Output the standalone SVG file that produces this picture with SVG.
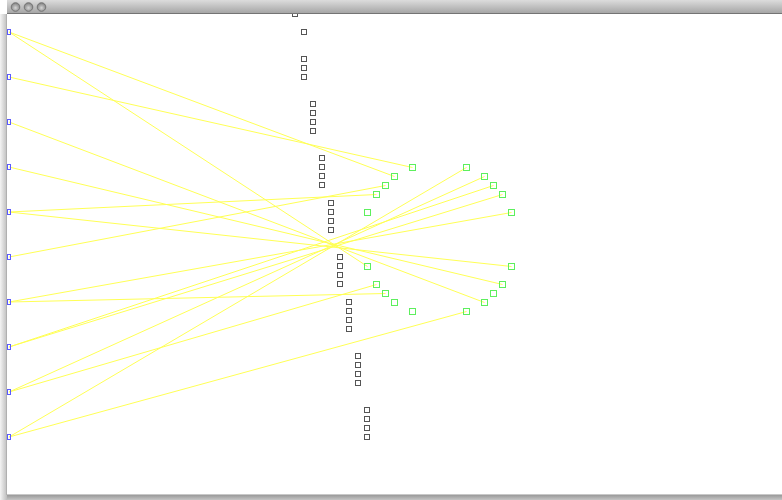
<svg xmlns="http://www.w3.org/2000/svg" width="782" height="500" viewBox="0 0 782 500">
<defs>
<linearGradient id="title" x1="0" y1="0" x2="0" y2="1">
<stop offset="0" stop-color="#dcdcdc"/><stop offset="1" stop-color="#a2a2a2"/>
</linearGradient>
<linearGradient id="leftsh" x1="0" y1="0" x2="1" y2="0">
<stop offset="0" stop-color="#f4f4f4"/><stop offset="1" stop-color="#bdbdbd"/>
</linearGradient>
<linearGradient id="botsh" x1="0" y1="0" x2="0" y2="1">
<stop offset="0" stop-color="#9a9a9a"/><stop offset="1" stop-color="#c4c4c4"/>
</linearGradient>
<radialGradient id="btn" cx="0.5" cy="0.6" r="0.6">
<stop offset="0" stop-color="#d6d6d6"/><stop offset="1" stop-color="#7c7c7c"/>
</radialGradient>
<style>
.edge{stroke:#ffff55;stroke-width:1;fill:none}
.blue{fill:none;stroke:#5a5aff;stroke-width:1}
.green{fill:none;stroke:#5def5d;stroke-width:1}
.black{fill:none;stroke:#555555;stroke-width:1}
</style>
</defs>
<rect x="0" y="0" width="782" height="500" fill="#ffffff"/>
<rect x="0" y="14" width="7" height="486" fill="url(#leftsh)"/>
<rect x="7" y="495" width="775" height="5" fill="url(#botsh)"/>
<line x1="7" y1="494.5" x2="782" y2="494.5" stroke="#c8c8c8"/>
<line x1="6.5" y1="14" x2="6.5" y2="495" stroke="#b0b0b0"/>

<g id="connectors">
<line class="edge" x1="9" y1="32" x2="394.5" y2="176.5"/>
<line class="edge" x1="9" y1="32" x2="367.5" y2="266.5"/>
<line class="edge" x1="9" y1="77" x2="412.5" y2="167.5"/>
<line class="edge" x1="9" y1="122" x2="484.5" y2="302.5"/>
<line class="edge" x1="9" y1="167" x2="502.5" y2="284.5"/>
<line class="edge" x1="9" y1="212" x2="376.5" y2="194.5"/>
<line class="edge" x1="9" y1="212" x2="511.5" y2="266.5"/>
<line class="edge" x1="9" y1="257" x2="385.5" y2="185.5"/>
<line class="edge" x1="9" y1="302" x2="511.5" y2="212.5"/>
<line class="edge" x1="9" y1="302" x2="385.5" y2="293.5"/>
<line class="edge" x1="9" y1="347" x2="493.5" y2="185.5"/>
<line class="edge" x1="9" y1="347" x2="502.5" y2="194.5"/>
<line class="edge" x1="9" y1="392" x2="484.5" y2="176.5"/>
<line class="edge" x1="9" y1="392" x2="376.5" y2="284.5"/>
<line class="edge" x1="9" y1="437" x2="466.5" y2="167.5"/>
<line class="edge" x1="9" y1="437" x2="466.5" y2="311.5"/>
</g>

<g id="blue-nodes">
<rect id="b0" class="blue" x="7.5" y="29.5" width="3" height="5"/>
<rect id="b1" class="blue" x="7.5" y="74.5" width="3" height="5"/>
<rect id="b2" class="blue" x="7.5" y="119.5" width="3" height="5"/>
<rect id="b3" class="blue" x="7.5" y="164.5" width="3" height="5"/>
<rect id="b4" class="blue" x="7.5" y="209.5" width="3" height="5"/>
<rect id="b5" class="blue" x="7.5" y="254.5" width="3" height="5"/>
<rect id="b6" class="blue" x="7.5" y="299.5" width="3" height="5"/>
<rect id="b7" class="blue" x="7.5" y="344.5" width="3" height="5"/>
<rect id="b8" class="blue" x="7.5" y="389.5" width="3" height="5"/>
<rect id="b9" class="blue" x="7.5" y="434.5" width="3" height="5"/>
</g>

<g id="black-nodes">
<rect id="k0" class="black" x="292.5" y="11.5" width="5" height="5"/>
<rect id="k1" class="black" x="301.5" y="29.5" width="5" height="5"/>
<rect id="k2" class="black" x="301.5" y="56.5" width="5" height="5"/>
<rect id="k3" class="black" x="301.5" y="65.5" width="5" height="5"/>
<rect id="k4" class="black" x="301.5" y="74.5" width="5" height="5"/>
<rect id="k5" class="black" x="310.5" y="101.5" width="5" height="5"/>
<rect id="k6" class="black" x="310.5" y="110.5" width="5" height="5"/>
<rect id="k7" class="black" x="310.5" y="119.5" width="5" height="5"/>
<rect id="k8" class="black" x="310.5" y="128.5" width="5" height="5"/>
<rect id="k9" class="black" x="319.5" y="155.5" width="5" height="5"/>
<rect id="k10" class="black" x="319.5" y="164.5" width="5" height="5"/>
<rect id="k11" class="black" x="319.5" y="173.5" width="5" height="5"/>
<rect id="k12" class="black" x="319.5" y="182.5" width="5" height="5"/>
<rect id="k13" class="black" x="328.5" y="200.5" width="5" height="5"/>
<rect id="k14" class="black" x="328.5" y="209.5" width="5" height="5"/>
<rect id="k15" class="black" x="328.5" y="218.5" width="5" height="5"/>
<rect id="k16" class="black" x="328.5" y="227.5" width="5" height="5"/>
<rect id="k17" class="black" x="337.5" y="254.5" width="5" height="5"/>
<rect id="k18" class="black" x="337.5" y="263.5" width="5" height="5"/>
<rect id="k19" class="black" x="337.5" y="272.5" width="5" height="5"/>
<rect id="k20" class="black" x="337.5" y="281.5" width="5" height="5"/>
<rect id="k21" class="black" x="346.5" y="299.5" width="5" height="5"/>
<rect id="k22" class="black" x="346.5" y="308.5" width="5" height="5"/>
<rect id="k23" class="black" x="346.5" y="317.5" width="5" height="5"/>
<rect id="k24" class="black" x="346.5" y="326.5" width="5" height="5"/>
<rect id="k25" class="black" x="355.5" y="353.5" width="5" height="5"/>
<rect id="k26" class="black" x="355.5" y="362.5" width="5" height="5"/>
<rect id="k27" class="black" x="355.5" y="371.5" width="5" height="5"/>
<rect id="k28" class="black" x="355.5" y="380.5" width="5" height="5"/>
<rect id="k29" class="black" x="364.5" y="407.5" width="5" height="5"/>
<rect id="k30" class="black" x="364.5" y="416.5" width="5" height="5"/>
<rect id="k31" class="black" x="364.5" y="425.5" width="5" height="5"/>
<rect id="k32" class="black" x="364.5" y="434.5" width="5" height="5"/>
</g>

<g id="green-nodes">
<rect id="g0" class="green" x="409.5" y="164.5" width="6" height="6"/>
<rect id="g1" class="green" x="391.5" y="173.5" width="6" height="6"/>
<rect id="g2" class="green" x="382.5" y="182.5" width="6" height="6"/>
<rect id="g3" class="green" x="373.5" y="191.5" width="6" height="6"/>
<rect id="g4" class="green" x="364.5" y="209.5" width="6" height="6"/>
<rect id="g5" class="green" x="463.5" y="164.5" width="6" height="6"/>
<rect id="g6" class="green" x="481.5" y="173.5" width="6" height="6"/>
<rect id="g7" class="green" x="490.5" y="182.5" width="6" height="6"/>
<rect id="g8" class="green" x="499.5" y="191.5" width="6" height="6"/>
<rect id="g9" class="green" x="508.5" y="209.5" width="6" height="6"/>
<rect id="g10" class="green" x="364.5" y="263.5" width="6" height="6"/>
<rect id="g11" class="green" x="373.5" y="281.5" width="6" height="6"/>
<rect id="g12" class="green" x="382.5" y="290.5" width="6" height="6"/>
<rect id="g13" class="green" x="391.5" y="299.5" width="6" height="6"/>
<rect id="g14" class="green" x="409.5" y="308.5" width="6" height="6"/>
<rect id="g15" class="green" x="508.5" y="263.5" width="6" height="6"/>
<rect id="g16" class="green" x="499.5" y="281.5" width="6" height="6"/>
<rect id="g17" class="green" x="490.5" y="290.5" width="6" height="6"/>
<rect id="g18" class="green" x="481.5" y="299.5" width="6" height="6"/>
<rect id="g19" class="green" x="463.5" y="308.5" width="6" height="6"/>
</g>

<g id="titlebar">
<rect x="7" y="0" width="775" height="14" fill="url(#title)"/>
<line x1="7" y1="13.5" x2="782" y2="13.5" stroke="#747474"/>
<circle cx="15.5" cy="7" r="4.3" fill="url(#btn)" stroke="#6a6a6a" stroke-width="0.8"/>
<circle cx="28.5" cy="7" r="4.3" fill="url(#btn)" stroke="#6a6a6a" stroke-width="0.8"/>
<circle cx="41.5" cy="7" r="4.3" fill="url(#btn)" stroke="#6a6a6a" stroke-width="0.8"/>
</g>
</svg>
